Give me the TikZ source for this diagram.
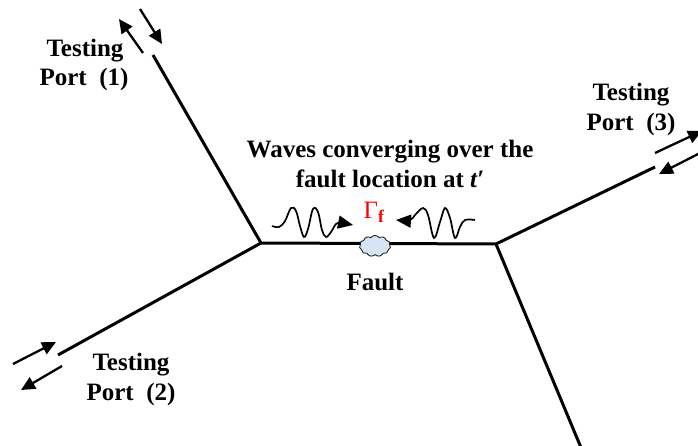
\documentclass[tikz,border=0pt]{standalone}
\usepackage{fontspec}
\setmainfont{Liberation Serif}
\usetikzlibrary{arrows.meta,shapes.symbols}
\definecolor{cloudfill}{RGB}{214,228,244}
\begin{document}
\begin{tikzpicture}[x=1pt,y=-1pt,
  wire/.style={line width=3pt},
  sig/.style={line width=2.3pt,-{Triangle[length=14pt,width=13pt]}},
  lbl/.style={font=\fontsize{25}{29}\selectfont\bfseries, anchor=base, inner sep=0pt},
  wave/.style={line width=1.7pt,-{Triangle[length=15pt,width=13pt]}}]
\useasboundingbox (0,0) rectangle (698,446);
\clip (0,0) rectangle (698,446);
% junctions and line ends
\coordinate (J1) at (261,243);
\coordinate (J2) at (496,244);
\coordinate (P1) at (153,55);
\coordinate (P2) at (58,355);
\coordinate (P3) at (655,167);
\coordinate (P4) at (582,450);
\draw[wire,line join=round] (P1) -- (J1) -- (J2) -- (P3);
\draw[wire] (P2) -- (J1);
\draw[wire] (J2) -- (P4);
% fault
\node[cloud, cloud puffs=11, cloud puff arc=110, aspect=1.5, draw=black!85, line width=0.9pt, fill=cloudfill, minimum width=31pt, minimum height=21pt, inner sep=0pt] (F) at (375,246) {};
% port arrows
\coordinate (a1s) at (143,53); \coordinate (a1e) at (119,19);
\coordinate (b1s) at (140,9); \coordinate (b1e) at (162,44);
\draw[sig] (a1s) -- (a1e);
\draw[sig] (b1s) -- (b1e);
\coordinate (a2s) at (13,364); \coordinate (a2e) at (56,342);
\coordinate (b2s) at (62,366); \coordinate (b2e) at (21,390);
\draw[sig] (a2s) -- (a2e);
\draw[sig] (b2s) -- (b2e);
\coordinate (a3s) at (655,153); \coordinate (a3e) at (702,131);
\coordinate (b3s) at (700,153); \coordinate (b3e) at (659,174);
\draw[sig] (a3s) -- (a3e);
\draw[sig] (b3s) -- (b3e);
% waves
\draw[wave] plot[smooth, tension=0.6] coordinates {(272,226) (279,227) (285,221) (291,208) (296,211) (300,226) (304,237) (308,229) (313,209) (318,212) (322,230) (326,237) (331,232) (336,224) (341,223) (353,225)};
\draw[wave] plot[smooth, tension=0.6] coordinates {(475,220) (465,220) (460,227) (455,238) (450,218) (445,208) (440,222) (434,238) (428,215) (423,208) (415,215) (410,220) (396,220)};
% labels
\node[lbl] (t1a) at (85,57) {Testing};
\node[lbl] (t1b) at (84,86) {Port\ \ (1)};
\node[lbl] (t2a) at (131,370) {Testing};
\node[lbl] (t2b) at (131,400) {Port\ \ (2)};
\node[lbl] (t3a) at (631,101) {Testing};
\node[lbl] (t3b) at (631,131) {Port\ \ (3)};
\node[lbl] (w1) at (390,158) {Waves converging over the};
\node[lbl] (w2) at (390,188) {fault location at {\itshape t′}};
\node[lbl] (g) at (374,219) {\color{red}\fontsize{25}{28}\selectfont\mdseries Γ\textsubscript{\bfseries f}};
\node[lbl] (fl) at (375,290) {Fault};
\end{tikzpicture}
\end{document}
